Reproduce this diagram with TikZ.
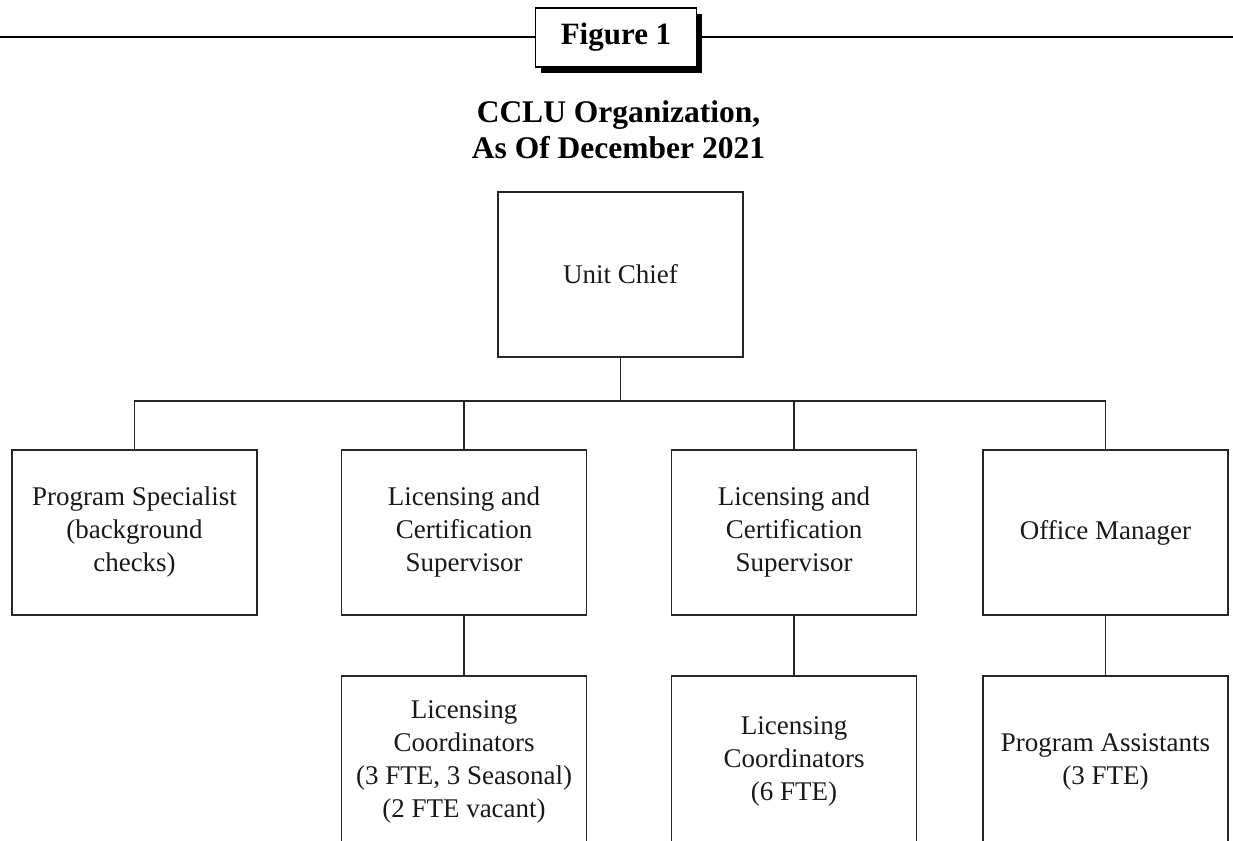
\documentclass[tikz,border=0pt]{standalone}
\usepackage{fontspec}
\setmainfont{Liberation Serif}
\usetikzlibrary{shadows}
\begin{document}
\begin{tikzpicture}[x=1pt,y=-1pt,
  line width=1.8pt,
  orgbox/.style={draw=black!85, rectangle, minimum width=245pt, minimum height=165pt,
    align=center, inner sep=0pt, font=\fontsize{27}{33}\selectfont, text=black!90},
  lowbox/.style={orgbox, minimum height=171pt},
  figbox/.style={draw=black, fill=white, rectangle, minimum width=161pt, minimum height=59pt,
    inner sep=0pt, font=\fontsize{31}{36}\selectfont\bfseries,
    drop shadow={shadow xshift=5pt, shadow yshift=-6pt, fill=black, opacity=1}},
  link/.style={draw=black!85}
]
\useasboundingbox (0,0) rectangle (1233,840);

% header
\node[figbox] (fig) at (616,37.5) {Figure 1};
\coordinate (ruleL) at (0,37);
\coordinate (ruleR) at (1233,37);
\draw[black, line width=1.5pt] (ruleL) -- (ruleL -| fig.west);
\draw[black, line width=1.5pt] (fig.east |- ruleR) -- (ruleR);

\node[font=\fontsize{31.5}{36}\selectfont\bfseries, align=center, inner sep=0pt] (title) at (618.5,130)
  {CCLU Organization,\\As Of December 2021};

% boxes
\node[orgbox] (uc) at (620.5,274.5) {Unit Chief};
\node[orgbox] (ps) at (134.5,532.5) {Program Specialist\\(background\\checks)};
\node[orgbox] (ls1) at (464,532.5) {Licensing and\\Certification\\Supervisor};
\node[orgbox] (ls2) at (794,532.5) {Licensing and\\Certification\\Supervisor};
\node[orgbox] (om) at (1105.5,532.5) {Office Manager};
\node[lowbox] (lc1) at (464,761.5) {Licensing\\Coordinators\\(3 FTE, 3 Seasonal)\\(2 FTE vacant)};
\node[lowbox] (lc2) at (794,761.5) {Licensing\\Coordinators\\(6 FTE)};
\node[lowbox] (pa) at (1105.5,761.5) {Program Assistants\\(3 FTE)};

% connectors
\coordinate (bus) at (620.5,401);
\draw[link] (uc.south) -- (uc.south |- bus);
\draw[link] (ps.north) -- (ps.north |- bus) -- (om.north |- bus) -- (om.north);
\draw[link] (ls1.north) -- (ls1.north |- bus);
\draw[link] (ls2.north) -- (ls2.north |- bus);
\draw[link] (ls1.south) -- (lc1.north);
\draw[link] (ls2.south) -- (lc2.north);
\draw[link] (om.south) -- (pa.north);
\end{tikzpicture}
\end{document}
